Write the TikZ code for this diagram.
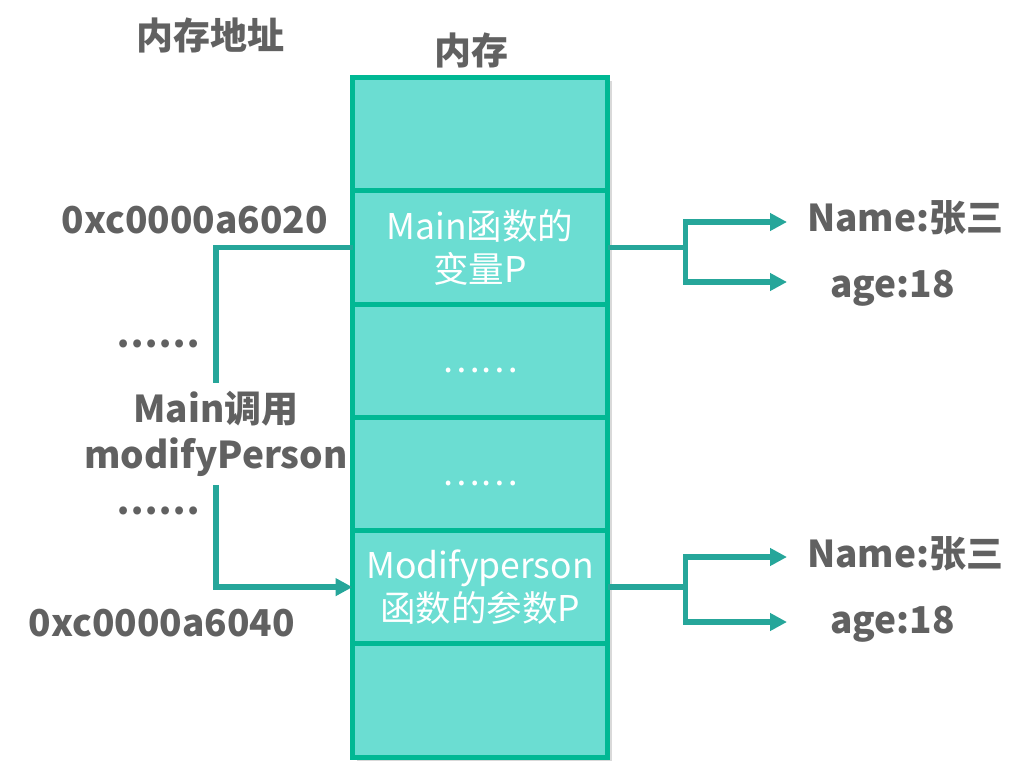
\documentclass[tikz,border=0pt]{standalone}
\usepackage{fontspec}
\setmainfont{Noto Sans CJK SC}
\usetikzlibrary{arrows.meta, positioning, shadows}

\definecolor{cellfill}{HTML}{6BDDD2}
\definecolor{cellline}{HTML}{00B894}
\definecolor{linkcol}{HTML}{26A69A}
\definecolor{labelgray}{HTML}{616161}

\begin{document}
\begin{tikzpicture}[x=1pt, y=-1pt,
    cell/.style={draw=cellline, fill=cellfill, line width=5pt, minimum width=255pt, minimum height=113.25pt,
        outer sep=0pt, inner sep=0pt, text=white, align=center, font=\fontsize{35.5}{43}\selectfont,
        drop shadow={shadow xshift=4pt, shadow yshift=-4pt, opacity=.15, fill=black}},
    tag/.style={text=labelgray, font=\fontsize{37}{46}\selectfont\bfseries, align=center, inner sep=0pt},
    link/.style={draw=linkcol, line width=5.5pt},
    arrow/.style={link, -{Triangle[length=17pt, width=17pt]}}
]
\useasboundingbox (0,0) rectangle (1023,773);

% Memory column
\node[cell] (c1) at (480,134.125) {};
\node[cell, below=0pt of c1] (c2) {Main函数的\\变量P};
\node[cell, below=0pt of c2] (c3) {\raisebox{-12pt}[0pt][0pt]{……}};
\node[cell, below=0pt of c3] (c4) {\raisebox{-12pt}[0pt][0pt]{……}};
\node[cell, below=0pt of c4] (c5) {Modifyperson\\函数的参数P};
\node[cell, below=0pt of c5] (c6) {};

% Titles
\node[tag] (addrtitle) at (210,35) {内存地址};
\node[tag] (memtitle) at (471,50) {内存};

% Left labels
\node[tag] (addr1) at (195,220) {0xc0000a6020};
\node[tag] (dots1) at (158,344) {……};
\node[tag, inner ysep=8pt] (call) at (216,434) {Main调用\\modifyPerson};
\node[tag] (dots2) at (158,511) {……};
\node[tag] (addr2) at (162,623) {0xc0000a6040};

% Right labels
\node[tag, anchor=west] (name1) at (807,218) {Name:张三};
\node[tag, anchor=west] (age1) at (830,288) {age:18};
\node[tag, anchor=west] (name2) at (807,554) {Name:张三};
\node[tag, anchor=west] (age2) at (830,624) {age:18};

% Arrows
\draw[link] (c2.west) -| (call.north);
\draw[arrow] (call.south) |- (c5.west);

\coordinate (fork1) at ([xshift=78pt]c2.east);
\coordinate (tip1) at (787,222);
\coordinate (tip2) at (787,282);
\draw[arrow] (c2.east) -- (fork1) |- (tip1);
\draw[arrow] (fork1) |- (tip2);

\coordinate (fork2) at ([xshift=78pt]c5.east);
\coordinate (tip3) at (787,557);
\coordinate (tip4) at (787,622);
\draw[arrow] (c5.east) -- (fork2) |- (tip3);
\draw[arrow] (fork2) |- (tip4);

\end{tikzpicture}
\end{document}
